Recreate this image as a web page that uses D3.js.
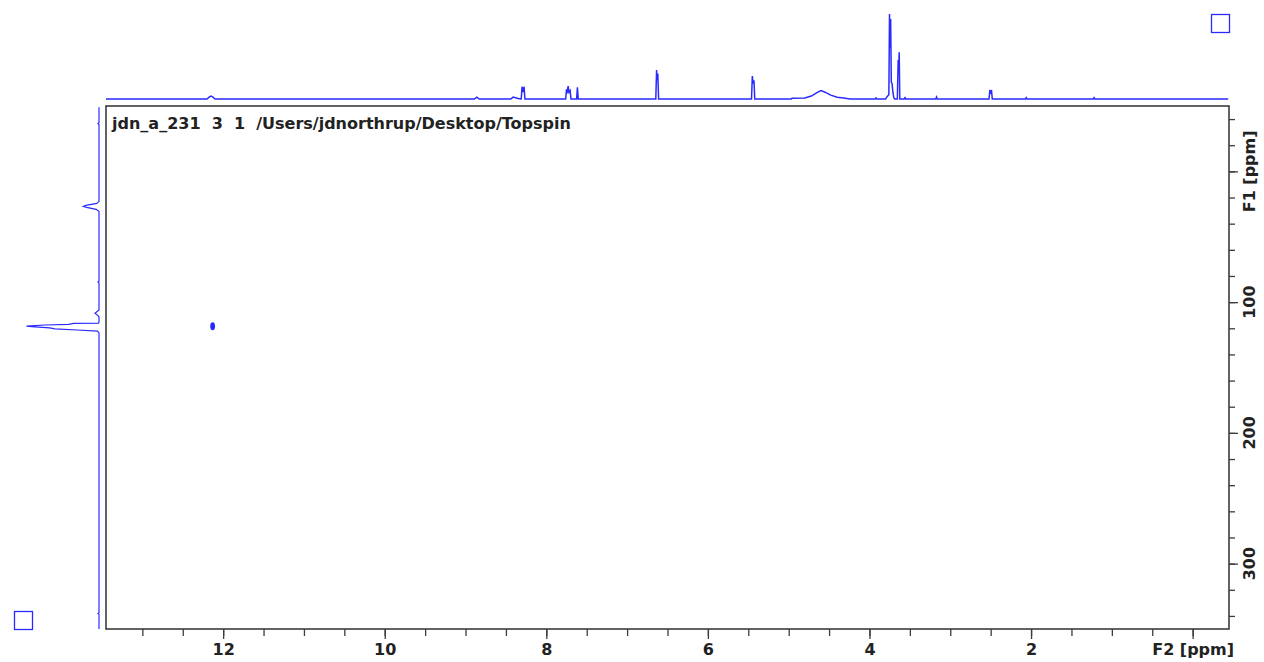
<!DOCTYPE html>
<html>
<head>
<meta charset="utf-8">
<script src="https://cdn.jsdelivr.net/npm/d3@7"></script>
<style>
  body { margin: 0; background: #fff; }
  svg text { font-family: "DejaVu Sans", sans-serif; font-weight: bold; fill: #222; }
</style>
</head>
<body>
<svg id="chart" width="1264" height="662"></svg>
<script>
// Axis ranges (ppm).
var f2Range = [13.45, -0.45];
var f1Range = [-50, 350];

// Tick values.
var f2MinorTicks = d3.range(26, -1, -1).map(function(d) { return d / 2; });
var f2MajorTicks = [12, 10, 8, 6, 4, 2, 0];
var f1MinorTicks = d3.range(-40, 341, 20);
var f1MajorTicks = [0, 100, 200, 300];
var f2Title = "F2 [ppm]";
var f1Title = "F1 [ppm]";

var titleText = "jdn_a_231  3  1  /Users/jdnorthrup/Desktop/Topspin";

// 1D projection on top (F2 ppm, relative intensity).
var topPpm = [13.45, 12.20, 12.17, 12.15, 12.13, 12.10,
              8.89, 8.86, 8.83,
              8.44, 8.41, 8.38, 8.35,
              8.31, 8.30, 8.29, 8.275, 8.265,
              7.76, 7.75, 7.74, 7.73, 7.72, 7.705, 7.695,
              7.625, 7.615, 7.605,
              6.645, 6.635, 6.63, 6.62, 6.61,
              5.46, 5.45, 5.44, 5.43, 5.42,
              4.97, 4.96, 4.80, 4.72, 4.65, 4.60, 4.55, 4.48, 4.40, 4.30, 4.24,
              3.93, 3.92, 3.91,
              3.80, 3.78, 3.76, 3.752, 3.745, 3.738, 3.73, 3.72, 3.71, 3.70, 3.69,
              3.655, 3.645, 3.64, 3.632, 3.625,
              3.57, 3.56, 3.55,
              3.18, 3.17, 3.16,
              2.52, 2.51, 2.50, 2.49, 2.48,
              2.07, 2.06, 2.05,
              1.23, 1.22, 1.21,
              -0.44];
var topInt = [0, 0, 2.5, 3.5, 2.5, 0,
              0, 2.2, 0,
              0, 2.2, 1.5, 0.5,
              0, 14.5, 8, 14.5, 0,
              0, 11.5, 9, 15.3, 8, 10, 0,
              0, 13.8, 0,
              0, 34, 22, 30, 0,
              0, 27, 18, 22, 0,
              0, 0.8, 1.2, 3.5, 7.5, 9.8, 8, 4.5, 2, 1, 0,
              0, 1.2, 0,
              0, 3, 5, 100, 60, 94, 20, 18, 8, 2, 0,
              0, 46, 30, 55, 0,
              0, 1.5, 0,
              0, 2.4, 0,
              0, 10.6, 8, 10.6, 0,
              0, 1.5, 0,
              0, 1.5, 0,
              0];

// 1D projection on the left (F1 ppm, relative intensity).
var leftPpm = [-49, -37.3, -36.6, -35.9,
               22.9, 24.5, 26.0, 26.8, 27.6, 29.0, 30.6,
               84.0, 84.7, 85.4,
               106.0, 108.5, 110.5, 111.5,
               115.0, 116.0, 116.3, 117.0, 117.5, 118.3, 118.8, 119.7, 120.5, 121.3, 122.2, 123.5,
               337.6, 338.2, 338.8, 350];
var leftInt = [0, 0, 1.4, 0,
               0, 3, 18, 21.6, 17, 4, 0,
               0, 1.4, 0,
               0, 5.5, 1, 0,
               0, 0.5, 35, 42, 75, 100, 93, 68, 61, 30, 2, 0,
               0, 1.4, 0, 0];

// Cross peaks (F2 ppm, F1 ppm).
var peakF2 = [12.13];
var peakF1 = [118.5];

var blue = "#2a2aff";
var svg = d3.select("#chart");

var frame = {left: 106, right: 1229, top: 106, bottom: 629};

var x = d3.scaleLinear().domain(f2Range).range([frame.left, frame.right]);
var y = d3.scaleLinear().domain(f1Range).range([frame.top, frame.bottom]);

// top projection
var topY = d3.scaleLinear().domain([0, 100]).range([99, 14]);
var topLine = d3.line()
    .x(function(d) { return x(d[0]); })
    .y(function(d) { return topY(d[1]); });

svg.append("path")
    .datum(d3.zip(topPpm, topInt))
    .attr("d", topLine)
    .attr("fill", "none")
    .attr("stroke", blue)
    .attr("stroke-width", 1.5);

// left projection
var leftX = d3.scaleLinear().domain([0, 100]).range([99, 26.5]);
var leftLine = d3.line()
    .x(function(d) { return leftX(d[1]); })
    .y(function(d) { return y(d[0]); });

svg.append("path")
    .datum(d3.zip(leftPpm, leftInt))
    .attr("d", leftLine)
    .attr("fill", "none")
    .attr("stroke", blue)
    .attr("stroke-width", 1.2);

// corner boxes
svg.append("rect").attr("x", 1211.5).attr("y", 14.5).attr("width", 18).attr("height", 18)
    .attr("fill", "none").attr("stroke", blue).attr("stroke-width", 1.3);
svg.append("rect").attr("x", 14.5).attr("y", 611.5).attr("width", 18).attr("height", 18)
    .attr("fill", "none").attr("stroke", blue).attr("stroke-width", 1.3);

// cross peaks
svg.selectAll(".xpeak")
    .data(d3.zip(peakF2, peakF1))
    .enter().append("ellipse")
    .attr("class", "xpeak")
    .attr("cx", function(d) { return x(d[0]); })
    .attr("cy", function(d) { return y(d[1]); })
    .attr("rx", 2.4)
    .attr("ry", 4)
    .attr("fill", blue);

// frame
svg.append("rect")
    .attr("x", frame.left).attr("y", frame.top)
    .attr("width", frame.right - frame.left)
    .attr("height", frame.bottom - frame.top)
    .attr("fill", "none")
    .attr("stroke", "#3c3c3c")
    .attr("stroke-width", 1.6);

// bottom axis
var xMinorAxis = d3.axisBottom(x).tickValues(f2MinorTicks).tickSize(7).tickFormat("");
var xMajorAxis = d3.axisBottom(x).tickValues(f2MajorTicks).tickSize(10).tickPadding(5)
    .tickFormat(function(d) { return d === 0 ? f2Title : d; });

[xMinorAxis, xMajorAxis].forEach(function(ax) {
  var g = svg.append("g")
      .attr("transform", "translate(0," + frame.bottom + ")")
      .call(ax);
  g.select(".domain").remove();
  g.selectAll(".tick line").attr("stroke", "#3c3c3c").attr("stroke-width", 1.3);
  g.selectAll(".tick text").attr("font-size", 16);
});

// right axis
var yMinorAxis = d3.axisRight(y).tickValues(f1MinorTicks).tickSize(6).tickFormat("");
var yMajorAxis = d3.axisRight(y).tickValues(f1MajorTicks).tickSize(9).tickFormat("");

[yMinorAxis, yMajorAxis].forEach(function(ax) {
  var g = svg.append("g")
      .attr("transform", "translate(" + frame.right + ",0)")
      .call(ax);
  g.select(".domain").remove();
  g.selectAll(".tick line").attr("stroke", "#3c3c3c").attr("stroke-width", 1.3);
});

svg.selectAll(".f1label")
    .data(f1MajorTicks)
    .enter().append("text")
    .attr("class", "f1label")
    .attr("transform", function(d) { return "translate(1255," + y(d) + ") rotate(-90)"; })
    .attr("text-anchor", "middle")
    .attr("font-size", 16)
    .text(function(d) { return d === 0 ? f1Title : d; });

// title inside the frame
svg.append("text")
    .attr("x", 112)
    .attr("y", 129)
    .attr("font-size", 16)
    .text(titleText)
    .style("white-space", "pre")
    .attr("xml:space", "preserve");
</script>
</body>
</html>
